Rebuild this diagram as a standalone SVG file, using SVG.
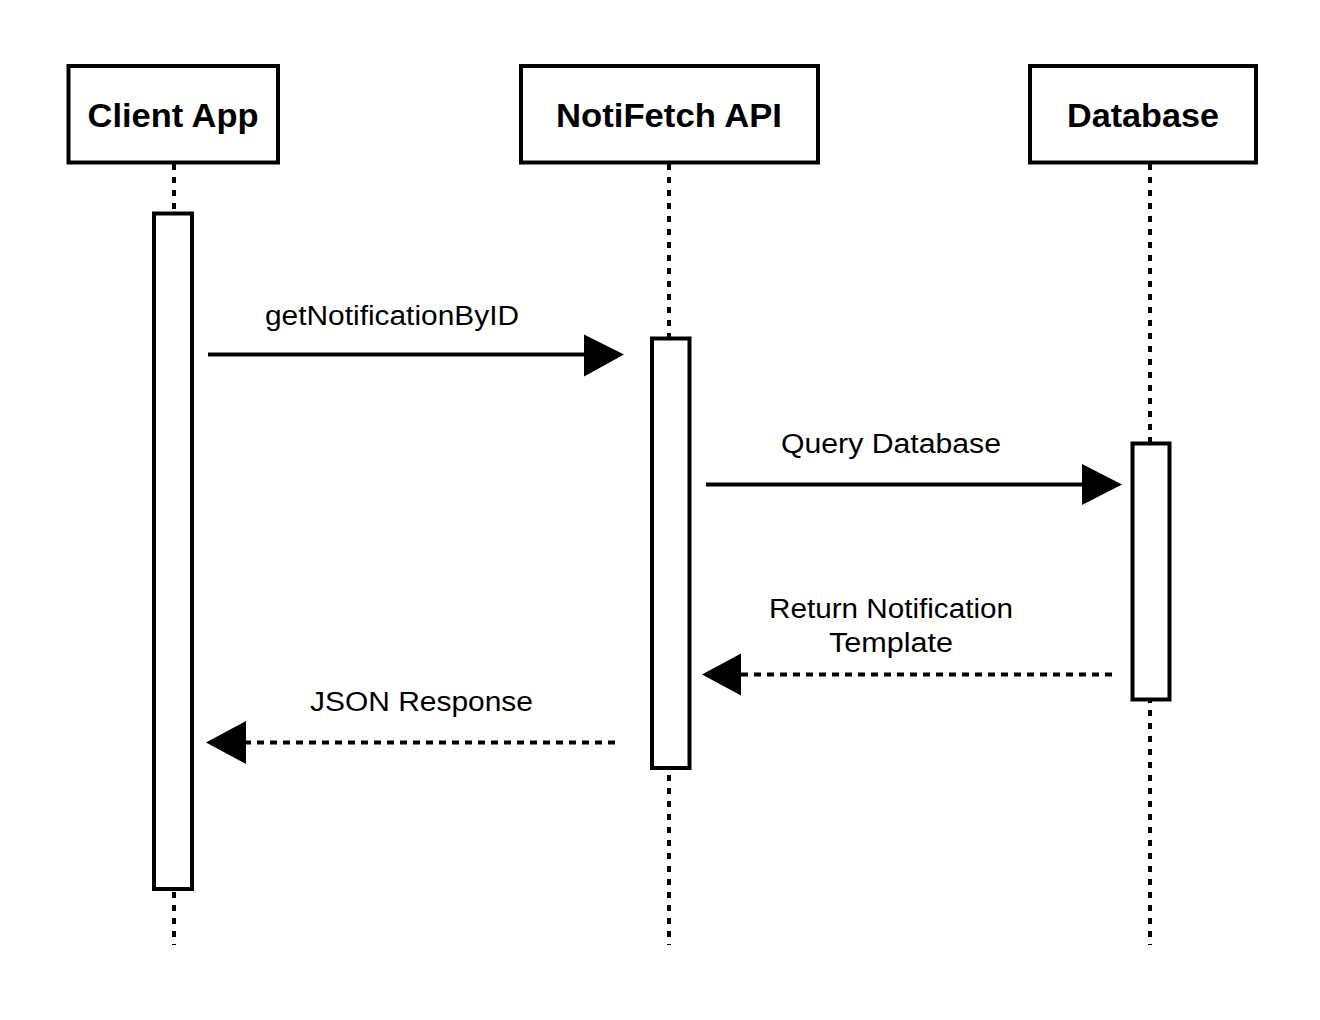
<svg xmlns="http://www.w3.org/2000/svg" width="1320" height="1020" viewBox="0 0 1320 1020">
<style>
.box{fill:#fff;stroke:#000;stroke-width:4}
.act{fill:#fff;stroke:#000;stroke-width:4}
.life{stroke:#000;stroke-width:4;stroke-dasharray:6 7;fill:none}
.msg{stroke:#000;stroke-width:4;fill:none}
.ret{stroke:#000;stroke-width:4;fill:none;stroke-dasharray:7 6}
.title{font-family:"Liberation Sans",Arial,sans-serif;font-weight:bold;font-size:33px;text-anchor:middle;fill:#000}
.lbl{font-family:"Liberation Sans",Arial,sans-serif;font-size:27px;text-anchor:middle;fill:#000}
.head{fill:#000}
</style>
<rect width="1320" height="1020" fill="#fff"/>
<g id="lifelines">
<line class="life" x1="174" y1="164" x2="174" y2="945"/>
<line class="life" x1="669" y1="164" x2="669" y2="945"/>
<line class="life" x1="1150" y1="164" x2="1150" y2="945"/>
</g>
<g id="client-app">
<rect class="box" x="68.5" y="66" width="209.5" height="96.5"/>
<text class="title" x="173" y="127" textLength="171" lengthAdjust="spacingAndGlyphs">Client App</text>
<rect class="act" x="154" y="213.5" width="38" height="675.5"/>
</g>
<g id="notifetch-api">
<rect class="box" x="521" y="66" width="297" height="96.5"/>
<text class="title" x="669" y="127" textLength="226" lengthAdjust="spacingAndGlyphs">NotiFetch API</text>
<rect class="act" x="652" y="338.5" width="37.5" height="429.5"/>
</g>
<g id="database">
<rect class="box" x="1030" y="66" width="226" height="96.5"/>
<text class="title" x="1143" y="127" textLength="152" lengthAdjust="spacingAndGlyphs">Database</text>
<rect class="act" x="1132.5" y="443.5" width="37" height="256"/>
</g>
<g id="connectors">
<line class="msg" x1="208" y1="354.5" x2="588" y2="354.5"/>
<polygon class="head" points="584,334.5 624,354.5 584,376.5"/>
<text class="lbl" x="392" y="325" textLength="254" lengthAdjust="spacingAndGlyphs">getNotificationByID</text>
<line class="msg" x1="706" y1="484.5" x2="1086" y2="484.5"/>
<polygon class="head" points="1082,464 1122,484.5 1082,505"/>
<text class="lbl" x="891" y="453" textLength="220" lengthAdjust="spacingAndGlyphs">Query Database</text>
<line class="ret" x1="1112" y1="674.5" x2="740" y2="674.5"/>
<polygon class="head" points="741,653.5 702,674.5 741,695.5"/>
<text class="lbl" x="891" y="618" textLength="244" lengthAdjust="spacingAndGlyphs">Return Notification</text>
<text class="lbl" x="891" y="652" textLength="124" lengthAdjust="spacingAndGlyphs">Template</text>
<line class="ret" x1="615" y1="742.5" x2="244" y2="742.5"/>
<polygon class="head" points="246,721 206,742.5 246,764"/>
<text class="lbl" x="421.5" y="711" textLength="223" lengthAdjust="spacingAndGlyphs">JSON Response</text>
</g>
</svg>
